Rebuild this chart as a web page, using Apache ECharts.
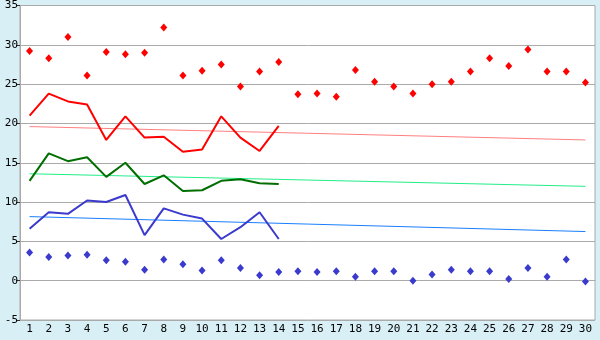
<!DOCTYPE html>
<html><head><meta charset="utf-8">
<script src="https://cdn.jsdelivr.net/npm/echarts@6/dist/echarts.min.js"></script>
<style>html,body{margin:0;padding:0;background:#d9eff6;}#c{width:600px;height:340px;}</style>
</head><body><div id="c"></div>
<script>
var days = ['1','2','3','4','5','6','7','8','9','10','11','12','13','14','15','16','17','18','19','20','21','22','23','24','25','26','27','28','29','30'];
var yTicks = [-5, 0, 5, 10, 15, 20, 25, 30, 35];
var maxPoints = [29.2,28.3,31.0,26.1,29.1,28.8,29.0,32.2,26.1,26.7,27.5,24.7,26.6,27.8,23.7,23.8,23.4,26.8,25.3,24.7,23.8,25.0,25.3,26.6,28.3,27.3,29.4,26.6,26.6,25.2];
var minPoints = [3.6,3.0,3.2,3.3,2.6,2.4,1.4,2.7,2.1,1.3,2.6,1.6,0.7,1.1,1.2,1.1,1.2,0.5,1.2,1.2,0.0,0.8,1.4,1.2,1.2,0.2,1.6,0.5,2.7,-0.1];
var maxLine = [21.0,23.8,22.8,22.4,17.9,20.9,18.2,18.3,16.4,16.7,20.9,18.2,16.5,19.7];
var meanLine = [12.7,16.2,15.2,15.7,13.2,15.0,12.3,13.4,11.4,11.5,12.7,12.9,12.4,12.3];
var minLine = [6.6,8.7,8.5,10.2,10.0,10.9,5.8,9.2,8.4,7.9,5.3,6.8,8.7,5.3];
var maxTrendEnds = [19.6, 17.9];
var meanTrendEnds = [13.6, 12.0];
var minTrendEnds = [8.15, 6.25];

function trend(ends){
  var a = days.map(function(){return null;});
  a[0] = ends[0]; a[days.length-1] = ends[1];
  return a;
}
var chart = echarts.init(document.getElementById('c'), null, {renderer:'canvas'});
var font = 'DejaVu Sans Mono';
chart.setOption({
  animation:false,
  backgroundColor:'#d9eff6',
  grid:{left:20,right:5,top:5,bottom:20,show:true,backgroundColor:'#ffffff',borderColor:'#aaaaaa',borderWidth:1},
  xAxis:{type:'category',data:days,boundaryGap:true,
    axisLine:{lineStyle:{color:'#aaaaaa'}},
    axisTick:{alignWithLabel:true,length:5,lineStyle:{color:'#333333'}},
    axisLabel:{color:'#000',fontFamily:font,fontSize:11,margin:4,interval:0},
    splitLine:{show:false}},
  yAxis:{type:'value',min:yTicks[0],max:yTicks[yTicks.length-1],interval:5,
    axisLine:{show:true,lineStyle:{color:'#aaaaaa'}},
    axisTick:{show:true,length:4,lineStyle:{color:'#333333'}},
    axisLabel:{color:'#000',fontFamily:font,fontSize:11,margin:2},
    splitLine:{lineStyle:{color:'#aaaaaa',width:1}}},
  series:[
    {type:'line',data:trend(maxTrendEnds),connectNulls:true,symbol:'none',lineStyle:{color:'#ff8080',width:1},z:2},
    {type:'line',data:trend(meanTrendEnds),connectNulls:true,symbol:'none',lineStyle:{color:'#22ee88',width:1},z:2},
    {type:'line',data:trend(minTrendEnds),connectNulls:true,symbol:'none',lineStyle:{color:'#1a7fff',width:1},z:2},
    {type:'line',data:maxLine,symbol:'none',lineStyle:{color:'#ff0000',width:2},z:3},
    {type:'line',data:meanLine,symbol:'none',lineStyle:{color:'#006e00',width:2},z:3},
    {type:'line',data:minLine,symbol:'none',lineStyle:{color:'#3a3acc',width:2},z:3},
    {type:'scatter',data:maxPoints,symbol:'diamond',symbolSize:[7,8],itemStyle:{color:'#ff0000',opacity:1},z:4},
    {type:'scatter',data:minPoints,symbol:'diamond',symbolSize:[7,8],itemStyle:{color:'#3a3acc',opacity:1},z:4}
  ]
});
</script></body></html>
